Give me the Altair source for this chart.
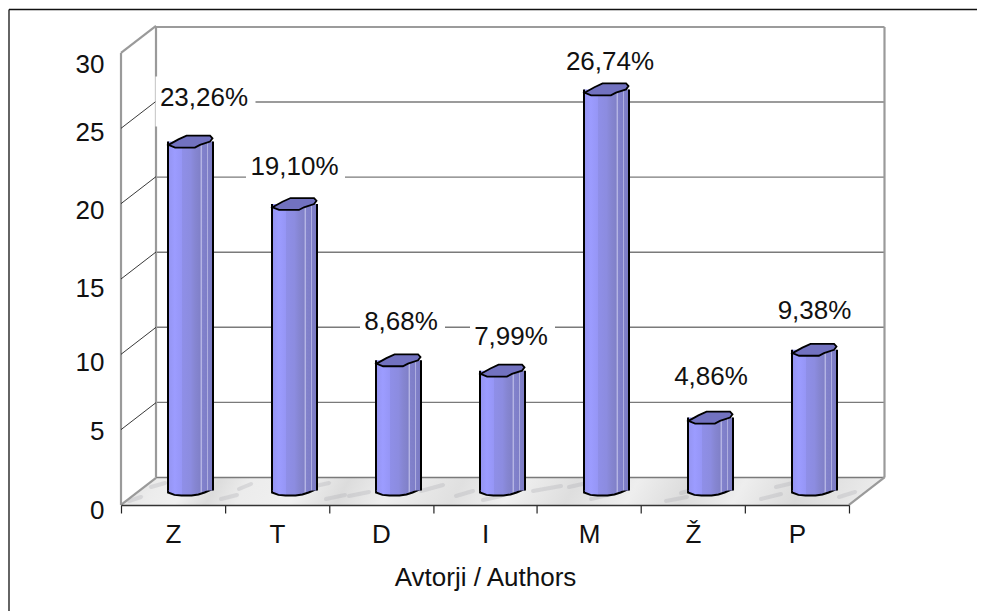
import altair as alt
import pandas as pd

categories = ["Z", "T", "D", "I", "M", "Ž", "P"]
values = [23.26, 19.10, 8.68, 7.99, 26.74, 4.86, 9.38]
labels = ["23,26%", "19,10%", "8,68%", "7,99%", "26,74%", "4,86%", "9,38%"]
ticks = [0, 5, 10, 15, 20, 25, 30]
axis_title = "Avtorji / Authors"

# styling of the labels, relative to the top of each column
label_dx = [13.5, 0, 2.5, 8.5, 3.5, 0.5, 0]
label_dy = [-44, -36.5, -38, -33.7, -27, -41, -39]
box_dx = [15, 1, 4, 10, 0, 0, 0]
box_dy = [-40, -36.5, -38, -33.7, 0, 0, 0]
box_w = [100, 99, 85, 85, 0, 0, 0]
box_h = [50, 30, 30, 30, 0, 0, 0]
# marble streaks on the floor: start x, start depth, end x, end depth
streak_x = [8, 30, 100, 118, 205, 190, 228, 300, 335, 362, 412, 470, 448, 560, 545, 640, 655, 690, 718]
streak_x2 = [20, 44, 116, 130, 224, 208, 248, 322, 352, 380, 440, 490, 466, 578, 566, 660, 672, 708, 734]
streak_y = [4, 18, 6, 16, 6, 18, 9, 14, 9, 5, 14, 6, 18, 12, 4, 6, 18, 14, 8]
streak_y2 = [8, 22, 10, 21, 10, 22, 13, 20, 14, 9, 19, 11, 22, 17, 8, 11, 22, 19, 13]

K = 977 / 969  # the page fits the svg to 969 px


def p(v):
    return v * K


FONT = "Liberation Sans"
FS = p(26)
W, H = p(728), p(452)
DEPTH_X, DEPTH_Y = p(35), p(27)

data = pd.DataFrame({"cat": categories, "value": values, "label": labels, "zero": [0] * 7})
tk = pd.DataFrame({"tick": ticks})
tk["back"] = tk["tick"] + DEPTH_Y / (H / 30)
one = pd.DataFrame({"a": [0]})

front_y = alt.Scale(domain=[0, 30], range=[H, 0])
back_y = alt.Scale(domain=[0, 30], range=[p(424.5), p(-26)])
bar_y = alt.Scale(domain=[0, 30], range=[p(437.5), p(-12.5)])
label_y = alt.Scale(domain=ticks, range=[p(v) for v in [457.5, 378.5, 309.5, 235.5, 157.5, 79.5, 11.5]])


def bar_x(shift=0):
    return alt.Scale(domain=categories, range=[p(17.5 + shift), p(745.5 + shift)], paddingInner=0, paddingOuter=0)


def X(shift=0):
    return alt.X("cat:N", sort=categories, scale=bar_x(shift), axis=None)


Y = alt.Y("value:Q", scale=bar_y, axis=None)

GREY = "#9a9a9a"
layers = []

# outer frame (top and left only)
frame = alt.Chart(one).mark_rule(color="#111111", strokeWidth=p(1.3))
layers.append(frame.encode(x=alt.value(p(-112)), x2=alt.value(p(864)), y=alt.value(p(-43.5))))
layers.append(frame.encode(x=alt.value(p(-112)), y=alt.value(p(-43.5)), y2=alt.value(p(565))))

# marble floor
floor = pd.DataFrame({
    "x": [0, 35 / 104, 7, 7 + 35 / 104],
    "top": [0, 1.792, 1.792, 1.792],
    "bot": [0, 0, 0, 1.792],
})
floor_fill = {
    "gradient": "linear", "x1": 0, "y1": 0, "x2": 1, "y2": 0.02,
    "stops": [{"offset": o, "color": c} for o, c in [
        (0, "#e0e0e0"), (0.05, "#ececec"), (0.09, "#f0f0f0"), (0.13, "#dcdcdc"), (0.17, "#ececec"),
        (0.24, "#f0f0f0"), (0.3, "#dcdcdc"), (0.36, "#eeeeee"), (0.45, "#e0e0e0"), (0.52, "#f0f0f0"),
        (0.6, "#dedede"), (0.68, "#eeeeee"), (0.75, "#dcdcdc"), (0.82, "#eeeeee"), (0.9, "#dadada"), (1, "#ececec")]],
}
layers.append(alt.Chart(floor).mark_area(fill=floor_fill, stroke=None, orient="vertical").encode(
    x=alt.X("x:Q", scale=alt.Scale(domain=[0, 7], range=[0, W]), axis=None),
    y=alt.Y("top:Q", scale=front_y, axis=None),
    y2="bot:Q",
))
streaks = pd.DataFrame({"x": streak_x, "x2": streak_x2, "y": streak_y, "y2": streak_y2})
layers.append(alt.Chart(streaks).mark_rule(color="#a8a8ae", strokeWidth=p(4), opacity=0.3, strokeCap="round").encode(
    x=alt.X("x:Q", scale=alt.Scale(domain=[0, 728], range=[0, W]), axis=None),
    x2="x2:Q",
    y=alt.Y("y:Q", scale=alt.Scale(domain=[0, 27], range=[H, H - DEPTH_Y]), axis=None),
    y2="y2:Q",
))

# back wall gridlines and edges
layers.append(alt.Chart(tk).mark_rule(color="#7a7a7a", strokeWidth=p(1.4)).encode(
    x=alt.value(p(35)), x2=alt.value(p(763.5)), y=alt.Y("tick:Q", scale=back_y, axis=None)))
edge = alt.Chart(one).mark_rule(color=GREY, strokeWidth=p(2.2))
layers.append(edge.encode(x=alt.value(p(35)), y=alt.value(p(-26)), y2=alt.value(p(424.5))))
layers.append(edge.encode(x=alt.value(p(763.5)), y=alt.value(p(-26)), y2=alt.value(p(424.5))))
layers.append(edge.encode(x=alt.value(0), y=alt.value(0), y2=alt.value(H)))
layers.append(edge.encode(x=alt.value(W), x2=alt.value(p(763.5)), y=alt.value(H), y2=alt.value(p(424.5))))

# side wall diagonals
diag_y = alt.Y("tick:Q", scale=front_y, axis=None)
layers.append(alt.Chart(tk[(tk.tick > 0) & (tk.tick < 30)]).mark_rule(color="#222222", strokeWidth=p(0.9)).encode(
    x=alt.value(0), x2=alt.value(p(35)), y=diag_y, y2="back:Q"))
layers.append(alt.Chart(tk[(tk.tick == 0) | (tk.tick == 30)]).mark_rule(color=GREY, strokeWidth=p(2.2)).encode(
    x=alt.value(0), x2=alt.value(p(35)), y=diag_y, y2="back:Q"))

# white boxes behind labels
for i, c in enumerate(categories):
    if box_w[i] == 0:
        continue
    hw, hh = box_w[i] / 100, box_h[i] / 100
    path = f"M{-hw},{-hh}L{hw},{-hh}L{hw},{hh}L{-hw},{hh}Z"
    layers.append(alt.Chart(data[data.cat == c]).mark_point(
        shape=path, size=p(100) ** 2, filled=True, fill="white", stroke=None, opacity=1,
        xOffset=p(box_dx[i]), yOffset=p(box_dy[i])).encode(x=X(), y=Y))

# axes (labels, ticks, title)
layers.append(alt.Chart(data).mark_bar(opacity=0).encode(
    x=alt.X("cat:N", sort=categories,
            scale=alt.Scale(domain=categories, range=[0, W], paddingInner=0, paddingOuter=0),
            title=axis_title,
            axis=alt.Axis(labelAngle=0, labelFont=FONT, labelFontSize=FS, labelColor="#111111", labelPadding=p(8.5),
                          tickBand="extent", tickSize=p(8), tickColor="#222222", tickWidth=p(1.2),
                          domainColor="#333333", domainWidth=p(1.6), grid=False, zindex=1,
                          titleFont=FONT, titleFontSize=FS, titleFontWeight="normal", titleColor="#111111",
                          titlePadding=p(17.5))),
    y=alt.Y("value:Q", scale=label_y, title=None,
            axis=alt.Axis(values=ticks, grid=False, ticks=False, domain=False, labelFont=FONT,
                          labelFontSize=FS, labelColor="#111111", labelPadding=p(17), labelOverlap=False,
                          labelFlush=False)),
))

# columns
side_fill = {
    "gradient": "linear", "x1": 0, "y1": 0, "x2": 1, "y2": 0,
    "stops": [{"offset": o, "color": c} for o, c in [
        (0, "#9494f0"), (0.15, "#9c9cff"), (0.3, "#9696f6"), (0.31, "#8f8fe8"), (0.5, "#8c8ce0"),
        (0.6, "#8686d2"), (0.72, "#8080c8"), (0.725, "#b4b4e4"), (0.745, "#b4b4e4"), (0.75, "#8282cc"),
        (0.865, "#7e7ec8"), (0.87, "#aeaee0"), (0.89, "#aeaee0"), (0.895, "#8080c8"), (1, "#7a7ac4")]],
}
SIZE = p(44) ** 2
bottom_path = "M-1.02,-0.14L-1.02,0.09L-0.73,0.2L-0.41,0.23L0.05,0.23L0.36,0.18L0.64,0.09L1.02,-0.07L1.02,-0.14Z"
layers.append(alt.Chart(data).mark_point(
    shape=bottom_path, size=SIZE, filled=True, fill=side_fill, stroke="#000000", strokeWidth=p(2), opacity=1
).encode(x=X(), y=alt.Y("zero:Q", scale=bar_y, axis=None)))
layers.append(alt.Chart(data).mark_bar(size=p(45), fill=side_fill, stroke=None, opacity=1).encode(x=X(), y=Y))
for shift in (-22.5, 22.5):
    layers.append(alt.Chart(data).mark_rule(color="#000000", strokeWidth=p(2)).encode(
        x=X(shift), y=Y, y2="zero:Q"))
cap_path = "M-1,0.15L-0.55,-0.1L-0.18,-0.27L0.89,-0.27L1,-0.15L0.89,0L0.43,0.15L0.2,0.27L-0.7,0.27Z"
layers.append(alt.Chart(data).mark_point(
    shape=cap_path, size=SIZE, filled=True, fill="#7272c0", stroke="#000000", strokeWidth=p(1.8), opacity=1
).encode(x=X(), y=Y))

# value labels
for i, c in enumerate(categories):
    layers.append(alt.Chart(data[data.cat == c]).mark_text(
        font=FONT, fontSize=FS, color="#111111", baseline="middle", align="center",
        xOffset=p(label_dx[i]), yOffset=p(label_dy[i])).encode(x=X(), y=Y, text="label:N"))

chart = alt.layer(*layers).resolve_scale(x="independent", y="independent").properties(
    width=W, height=H,
    padding={"left": p(113), "top": p(42.5), "right": 977 - p(113) - W, "bottom": 608 - p(42.5) - H},
    autosize=alt.AutoSizeParams(type="none"),
    background="white",
).configure_view(stroke=None)

chart.save("out.html", embed_options={"renderer": "svg", "actions": False})
